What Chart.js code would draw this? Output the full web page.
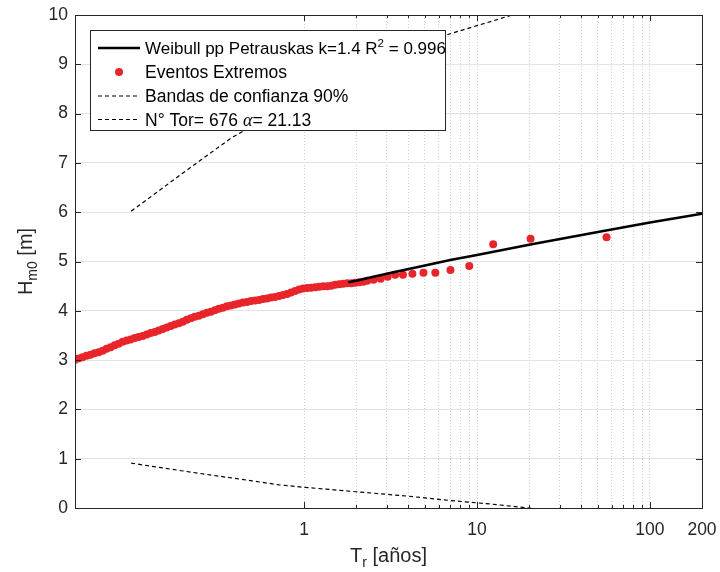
<!DOCTYPE html>
<html lang="es">
<head>
<meta charset="UTF-8">
<title>Weibull Hm0 - Tr</title>
<script src="https://cdn.jsdelivr.net/npm/chart.js"></script>
<style>
  html, body { margin: 0; padding: 0; background: #fff; }
  #marco { width: 720px; height: 572px; }
</style>
</head>
<body>
<div id="marco"><canvas id="grafico" width="720" height="572"></canvas></div>
<script>
// Tr [años] y Hm0 [m] de los eventos extremos
const trEventos = [0.0470, 0.0496, 0.0523, 0.0552, 0.0582, 0.0614, 0.0648, 0.0684, 0.0721, 0.0761,
  0.0802, 0.0846, 0.0893, 0.0942, 0.0993, 0.1048, 0.1105, 0.1166, 0.1230, 0.1297,
  0.1369, 0.1444, 0.1523, 0.1606, 0.1694, 0.1787, 0.1885, 0.1989, 0.2098, 0.2213,
  0.2334, 0.2462, 0.2597, 0.2740, 0.2890, 0.3049, 0.3216, 0.3392, 0.3578, 0.3775,
  0.3981, 0.4200, 0.4430, 0.4673, 0.4930, 0.5200, 0.5485, 0.5786, 0.6104, 0.6439,
  0.6792, 0.7164, 0.7557, 0.7971, 0.8409, 0.8869, 0.9354, 0.9867, 1.041, 1.098,
  1.158, 1.222, 1.288, 1.359, 1.434, 1.512, 1.595, 1.683, 1.775, 1.873,
  1.975, 2.084, 2.198, 2.318, 2.52, 2.77, 3.04, 3.36, 3.73, 4.23,
  4.90, 5.74, 7.02, 9.02, 12.4, 20.4, 56.1];
const hEventos = [3.00, 3.03, 3.06, 3.09, 3.11, 3.14, 3.16, 3.19, 3.23, 3.26,
  3.30, 3.33, 3.37, 3.40, 3.42, 3.45, 3.47, 3.49, 3.52, 3.55,
  3.57, 3.60, 3.63, 3.66, 3.69, 3.72, 3.75, 3.78, 3.82, 3.85,
  3.88, 3.90, 3.93, 3.96, 3.98, 4.01, 4.04, 4.06, 4.09, 4.11,
  4.13, 4.15, 4.17, 4.18, 4.20, 4.21, 4.22, 4.24, 4.25, 4.27,
  4.28, 4.30, 4.32, 4.34, 4.37, 4.40, 4.43, 4.45, 4.46, 4.47,
  4.48, 4.49, 4.50, 4.50, 4.51, 4.53, 4.54, 4.55, 4.56, 4.56,
  4.57, 4.58, 4.59, 4.61, 4.63, 4.65, 4.69, 4.73, 4.73, 4.75,
  4.77, 4.77, 4.83, 4.91, 5.35, 5.46, 5.49];

// ajuste Weibull (k = 1.4)
const trAjuste = [1.8, 2, 3, 5, 7, 10, 20, 50, 100, 200];
const hAjuste = [4.58, 4.61, 4.75, 4.92, 5.03, 5.13, 5.34, 5.60, 5.79, 5.97];

// bandas de confianza 90%
const trBandaSup = [0.1, 0.2, 0.377, 1, 3, 7, 16, 20];
const hBandaSup = [6.02, 6.80, 7.50, 8.35, 9.15, 9.62, 10.00, 10.10];
const trBandaInf = [0.1, 0.2, 0.5, 0.716, 1, 2, 4, 7.1, 12, 21];
const hBandaInf = [0.91, 0.75, 0.55, 0.47, 0.42, 0.33, 0.24, 0.15, 0.08, -0.01];

const xTicks = [1, 2, 3, 4, 5, 6, 7, 8, 9, 10, 20, 30, 40, 50, 60, 70, 80, 90, 100, 200];
const xEtiquetas = [1, 10, 100, 200];
const trMin = 1 / 21.13;

const rojo = '#e8252b';
const gris = '#262626';
const fuente = '"Liberation Sans", Arial, Helvetica, sans-serif';

const pares = (xs, ys) => xs.map((v, i) => ({ x: v, y: ys[i] }));

function textoRico(ctx, partes, x, y, alinear) {
  let ancho = 0;
  partes.forEach(p => { ctx.font = p[1]; ancho += ctx.measureText(p[0]).width; });
  let cx = alinear === 'center' ? x - ancho / 2 : x;
  partes.forEach(p => {
    ctx.font = p[1];
    ctx.fillText(p[0], cx, y + (p[2] || 0));
    cx += ctx.measureText(p[0]).width;
  });
}

const dibujos = {
  id: 'dibujos',
  afterDraw(chart) {
    const { ctx, chartArea: a, scales: { x, y } } = chart;
    ctx.save();
    ctx.strokeStyle = gris;
    ctx.lineWidth = 1;
    ctx.setLineDash([]);
    // marcas hacia dentro
    ctx.beginPath();
    xTicks.forEach(v => {
      const px = Math.round(x.getPixelForValue(v)) + 0.5;
      const l = [1, 10, 100].includes(v) ? 6 : 3;
      ctx.moveTo(px, a.bottom); ctx.lineTo(px, a.bottom - l);
      ctx.moveTo(px, a.top); ctx.lineTo(px, a.top + l);
    });
    for (let v = 0; v <= 10; v++) {
      const py = Math.round(y.getPixelForValue(v)) + 0.5;
      ctx.moveTo(a.left, py); ctx.lineTo(a.left + 6, py);
      ctx.moveTo(a.right, py); ctx.lineTo(a.right - 6, py);
    }
    ctx.stroke();
    ctx.strokeRect(Math.round(a.left) + 0.5, Math.round(a.top) + 0.5,
      Math.round(a.right - a.left), Math.round(a.bottom - a.top));

    // leyenda
    const lx = 90.5, ly = 30.5, lw = 355, lh = 100;
    ctx.fillStyle = '#fff';
    ctx.fillRect(lx, ly, lw, lh);
    ctx.strokeStyle = gris;
    ctx.strokeRect(lx, ly, lw, lh);
    const filas = [48, 72, 96, 119.5];
    ctx.strokeStyle = '#000';
    ctx.lineWidth = 2.5;
    ctx.beginPath(); ctx.moveTo(98, filas[0]); ctx.lineTo(140, filas[0]); ctx.stroke();
    ctx.fillStyle = rojo;
    ctx.beginPath(); ctx.arc(119, filas[1], 4, 0, Math.PI * 2); ctx.fill();
    ctx.lineWidth = 1.2;
    ctx.setLineDash([4, 3]);
    [filas[2], filas[3]].forEach(f => {
      ctx.beginPath(); ctx.moveTo(98, f); ctx.lineTo(140, f); ctx.stroke();
    });
    ctx.setLineDash([]);
    ctx.fillStyle = '#000';
    ctx.textBaseline = 'alphabetic';
    ctx.textAlign = 'left';
    const f1 = '17.5px ' + fuente, f0 = '17px ' + fuente, fSup = '11.5px ' + fuente;
    const tx = 145;
    textoRico(ctx, [['Weibull pp Petrauskas k=1.4 R', f0], ['2', fSup, -7], [' = 0.996', f0]], tx, filas[0] + 6);
    textoRico(ctx, [['Eventos Extremos', f1]], tx, filas[1] + 6);
    textoRico(ctx, [['Bandas de confianza 90%', f1]], tx, filas[2] + 6);
    textoRico(ctx, [['N° Tor= 676 ', f1], ['\u03B1', 'italic 18px "Liberation Serif", serif'], ['= 21.13', f1]], tx, filas[3] + 6);

    // titulos de ejes
    ctx.fillStyle = gris;
    const ft = '20px ' + fuente, fs = '14px ' + fuente;
    textoRico(ctx, [['T', ft], ['r', fs, 5], [' [años]', ft]], (a.left + a.right) / 2, 562, 'center');
    ctx.translate(25, (a.top + a.bottom) / 2);
    ctx.rotate(-Math.PI / 2);
    textoRico(ctx, [['H', ft], ['m0', fs, 5], [' [m]', ft]], 0, 7, 'center');
    ctx.restore();
  }
};

new Chart(document.getElementById('grafico'), {
  type: 'scatter',
  data: {
    datasets: [
      {
        label: 'Weibull pp Petrauskas k=1.4 R2 = 0.996',
        data: pares(trAjuste, hAjuste),
        showLine: true, borderColor: '#000', borderWidth: 2.5, pointRadius: 0
      },
      {
        label: 'Eventos Extremos',
        data: pares(trEventos, hEventos),
        pointRadius: 4, backgroundColor: rojo, borderWidth: 0
      },
      {
        label: 'Bandas de confianza 90%',
        data: pares(trBandaSup, hBandaSup),
        showLine: true, borderColor: '#000', borderWidth: 1.2, borderDash: [4, 3], pointRadius: 0
      },
      {
        label: 'N° Tor= 676 α= 21.13',
        data: pares(trBandaInf, hBandaInf),
        showLine: true, borderColor: '#000', borderWidth: 1.2, borderDash: [4, 3], pointRadius: 0
      }
    ]
  },
  options: {
    responsive: false,
    animation: false,
    devicePixelRatio: 1,
    layout: { padding: { left: 0, right: 18, top: 15, bottom: 0 } },
    plugins: { legend: { display: false }, tooltip: { enabled: false } },
    scales: {
      x: {
        type: 'logarithmic',
        min: trMin,
        max: 200,
        afterBuildTicks: s => { s.ticks = xTicks.map(v => ({ value: v })); },
        afterFit: s => { s.height = 64; s.paddingLeft = 0; s.paddingRight = 0; },
        ticks: {
          callback: v => xEtiquetas.includes(v) ? String(v) : '',
          autoSkip: false, maxRotation: 0, padding: 12,
          color: gris, font: { size: 17.5, family: fuente }
        },
        grid: { color: '#cfcfcf', drawTicks: false, lineWidth: 1 },
        border: { display: false, dash: [1, 2] }
      },
      y: {
        min: 0,
        max: 10,
        afterFit: s => { s.width = 75; s.paddingTop = 0; s.paddingBottom = 0; },
        ticks: { stepSize: 1, padding: 7, color: gris, font: { size: 17.5, family: fuente } },
        grid: { color: '#e3e3e3', drawTicks: false, lineWidth: 1 },
        border: { display: false }
      }
    }
  },
  plugins: [dibujos]
});
</script>
</body>
</html>
